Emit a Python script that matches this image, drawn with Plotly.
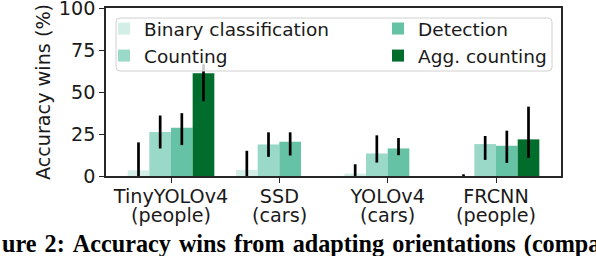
import plotly.graph_objects as go

# ---- data ----
models = ["TinyYOLOv4", "SSD", "YOLOv4", "FRCNN"]
targets = ["(people)", "(cars)", "(cars)", "(people)"]

series_names = ["Binary classification", "Counting", "Detection", "Agg. counting"]
binary = [3.4, 3.6, 1.4, 0.0]
binary_plus = [16.6, 11.4, 5.6, 1.0]
binary_minus = [3.4, 3.6, 1.4, 0.0]

counting = [26.2, 18.8, 13.4, 19.0]
counting_plus = [9.8, 7.2, 10.8, 4.8]
counting_minus = [9.8, 7.4, 5.4, 9.4]

detection = [28.7, 20.4, 16.4, 18.0]
detection_plus = [8.7, 5.6, 6.2, 9.0]
detection_minus = [10.3, 8.2, 4.0, 10.2]

agg = [61.2, 0.0, 0.0, 21.8]
agg_plus = [5.3, 0.0, 0.0, 19.5]
agg_minus = [16.7, 0.0, 0.0, 11.0]

colors = ["#d3eee7", "#9ad8c8", "#66c2a4", "#006d2c"]
y_ticks = [0, 25, 50, 75, 100]
caption_words = ["ure", "2:", "Accuracy", "wins", "from", "adapting",
                 "orientations", "(compa"]

FONT = "DejaVu Sans"
FS_AX = 19.2
FS_LEG = 18.5
TXT = "#1a1a1a"

fig = go.Figure()
series = [
    (binary, binary_plus, binary_minus, "legend"),
    (counting, counting_plus, counting_minus, "legend"),
    (detection, detection_plus, detection_minus, "legend2"),
    (agg, agg_plus, agg_minus, "legend2"),
]
for i, (vals, ep, em, lg) in enumerate(series):
    fig.add_trace(go.Bar(
        x=models, y=vals, name=series_names[i],
        marker=dict(color=colors[i], line=dict(width=0)),
        error_y=dict(type="data", symmetric=False, array=ep, arrayminus=em,
                     color="black", thickness=2.7, width=0),
        legend=lg, legendgroup=series_names[i],
    ))

# PLOT AREA in px: x 106..561, y 8..176
L, R, T, B = 106, 35, 8, 80
W, H = 596, 256
pw, ph = W - L - R, H - T - B

def px_x(x):
    return (x - L) / pw

def px_y(y):
    return (H - B - y) / ph

# legend frame (rounded)
x0, x1 = px_x(116), px_x(552)
y0, y1 = px_y(71), px_y(18)
rx, ry = 4 / pw, 4 / ph
path = (f"M{x0+rx},{y0} L{x1-rx},{y0} Q{x1},{y0} {x1},{y0+ry} "
        f"L{x1},{y1-ry} Q{x1},{y1} {x1-rx},{y1} L{x0+rx},{y1} "
        f"Q{x0},{y1} {x0},{y1-ry} L{x0},{y0+ry} Q{x0},{y0} {x0+rx},{y0} Z")
fig.add_shape(type="path", path=path, xref="paper", yref="paper",
              fillcolor="rgba(255,255,255,0.8)",
              line=dict(color="#d0d0d0", width=1), layer="above")

# second line of each category label (tighter line spacing than <br>)
for m, t in zip(models, targets):
    fig.add_annotation(text=t, x=m, xref="x", y=px_y(215), yref="paper",
                       xanchor="center", yanchor="middle", showarrow=False,
                       font=dict(family=FONT, size=FS_AX, color=TXT))

# caption (justified in the page, cut by the image edges)
fig.add_annotation(text=" \u200a".join(caption_words), xref="paper", yref="paper",
                   x=px_x(0), y=px_y(244), xanchor="left", yanchor="middle",
                   showarrow=False,
                   font=dict(family="Liberation Serif", size=24.2, color="black",
                             weight="bold"))

leg_common = dict(bgcolor="rgba(0,0,0,0)", borderwidth=0,
                  font=dict(family=FONT, size=FS_LEG, color=TXT),
                  orientation="v", tracegroupgap=0,
                  xanchor="left", yanchor="top")
fig.update_layout(
    width=W, height=H,
    margin=dict(l=L, r=R, t=T, b=B, pad=0),
    paper_bgcolor="white", plot_bgcolor="white",
    barmode="group", bargap=0.2, bargroupgap=0,
    font=dict(family=FONT, size=FS_AX, color=TXT),
    showlegend=True,
    legend=dict(x=px_x(104), y=px_y(10), **leg_common),
    legend2=dict(x=px_x(378), y=px_y(10), **leg_common),
)
fig.update_xaxes(
    type="category", categoryorder="array", categoryarray=models,
    tickvals=models, ticktext=models,
    range=[-0.6, 3.6], automargin=False,
    showline=True, linecolor="#262626", linewidth=1.5, mirror=True,
    ticks="outside", ticklen=5, tickwidth=1.3, tickcolor="#262626",
    ticklabelstandoff=-3,
    showgrid=False, zeroline=False,
    tickfont=dict(family=FONT, size=FS_AX, color=TXT),
)
fig.update_yaxes(
    range=[0, 100], tickvals=y_ticks, automargin=False,
    ticklabeloverflow="allow",
    showline=True, linecolor="#262626", linewidth=1.5, mirror=True,
    ticks="outside", ticklen=5, tickwidth=1.3, tickcolor="#262626",
    showgrid=False, zeroline=False,
    title=dict(text="Accuracy wins (%)", font=dict(family=FONT, size=FS_AX, color=TXT), standoff=3),
    tickfont=dict(family=FONT, size=FS_AX, color=TXT),
)

fig.write_html("out.html", config={"displayModeBar": False},
               post_script="document.body.style.margin='0';")
